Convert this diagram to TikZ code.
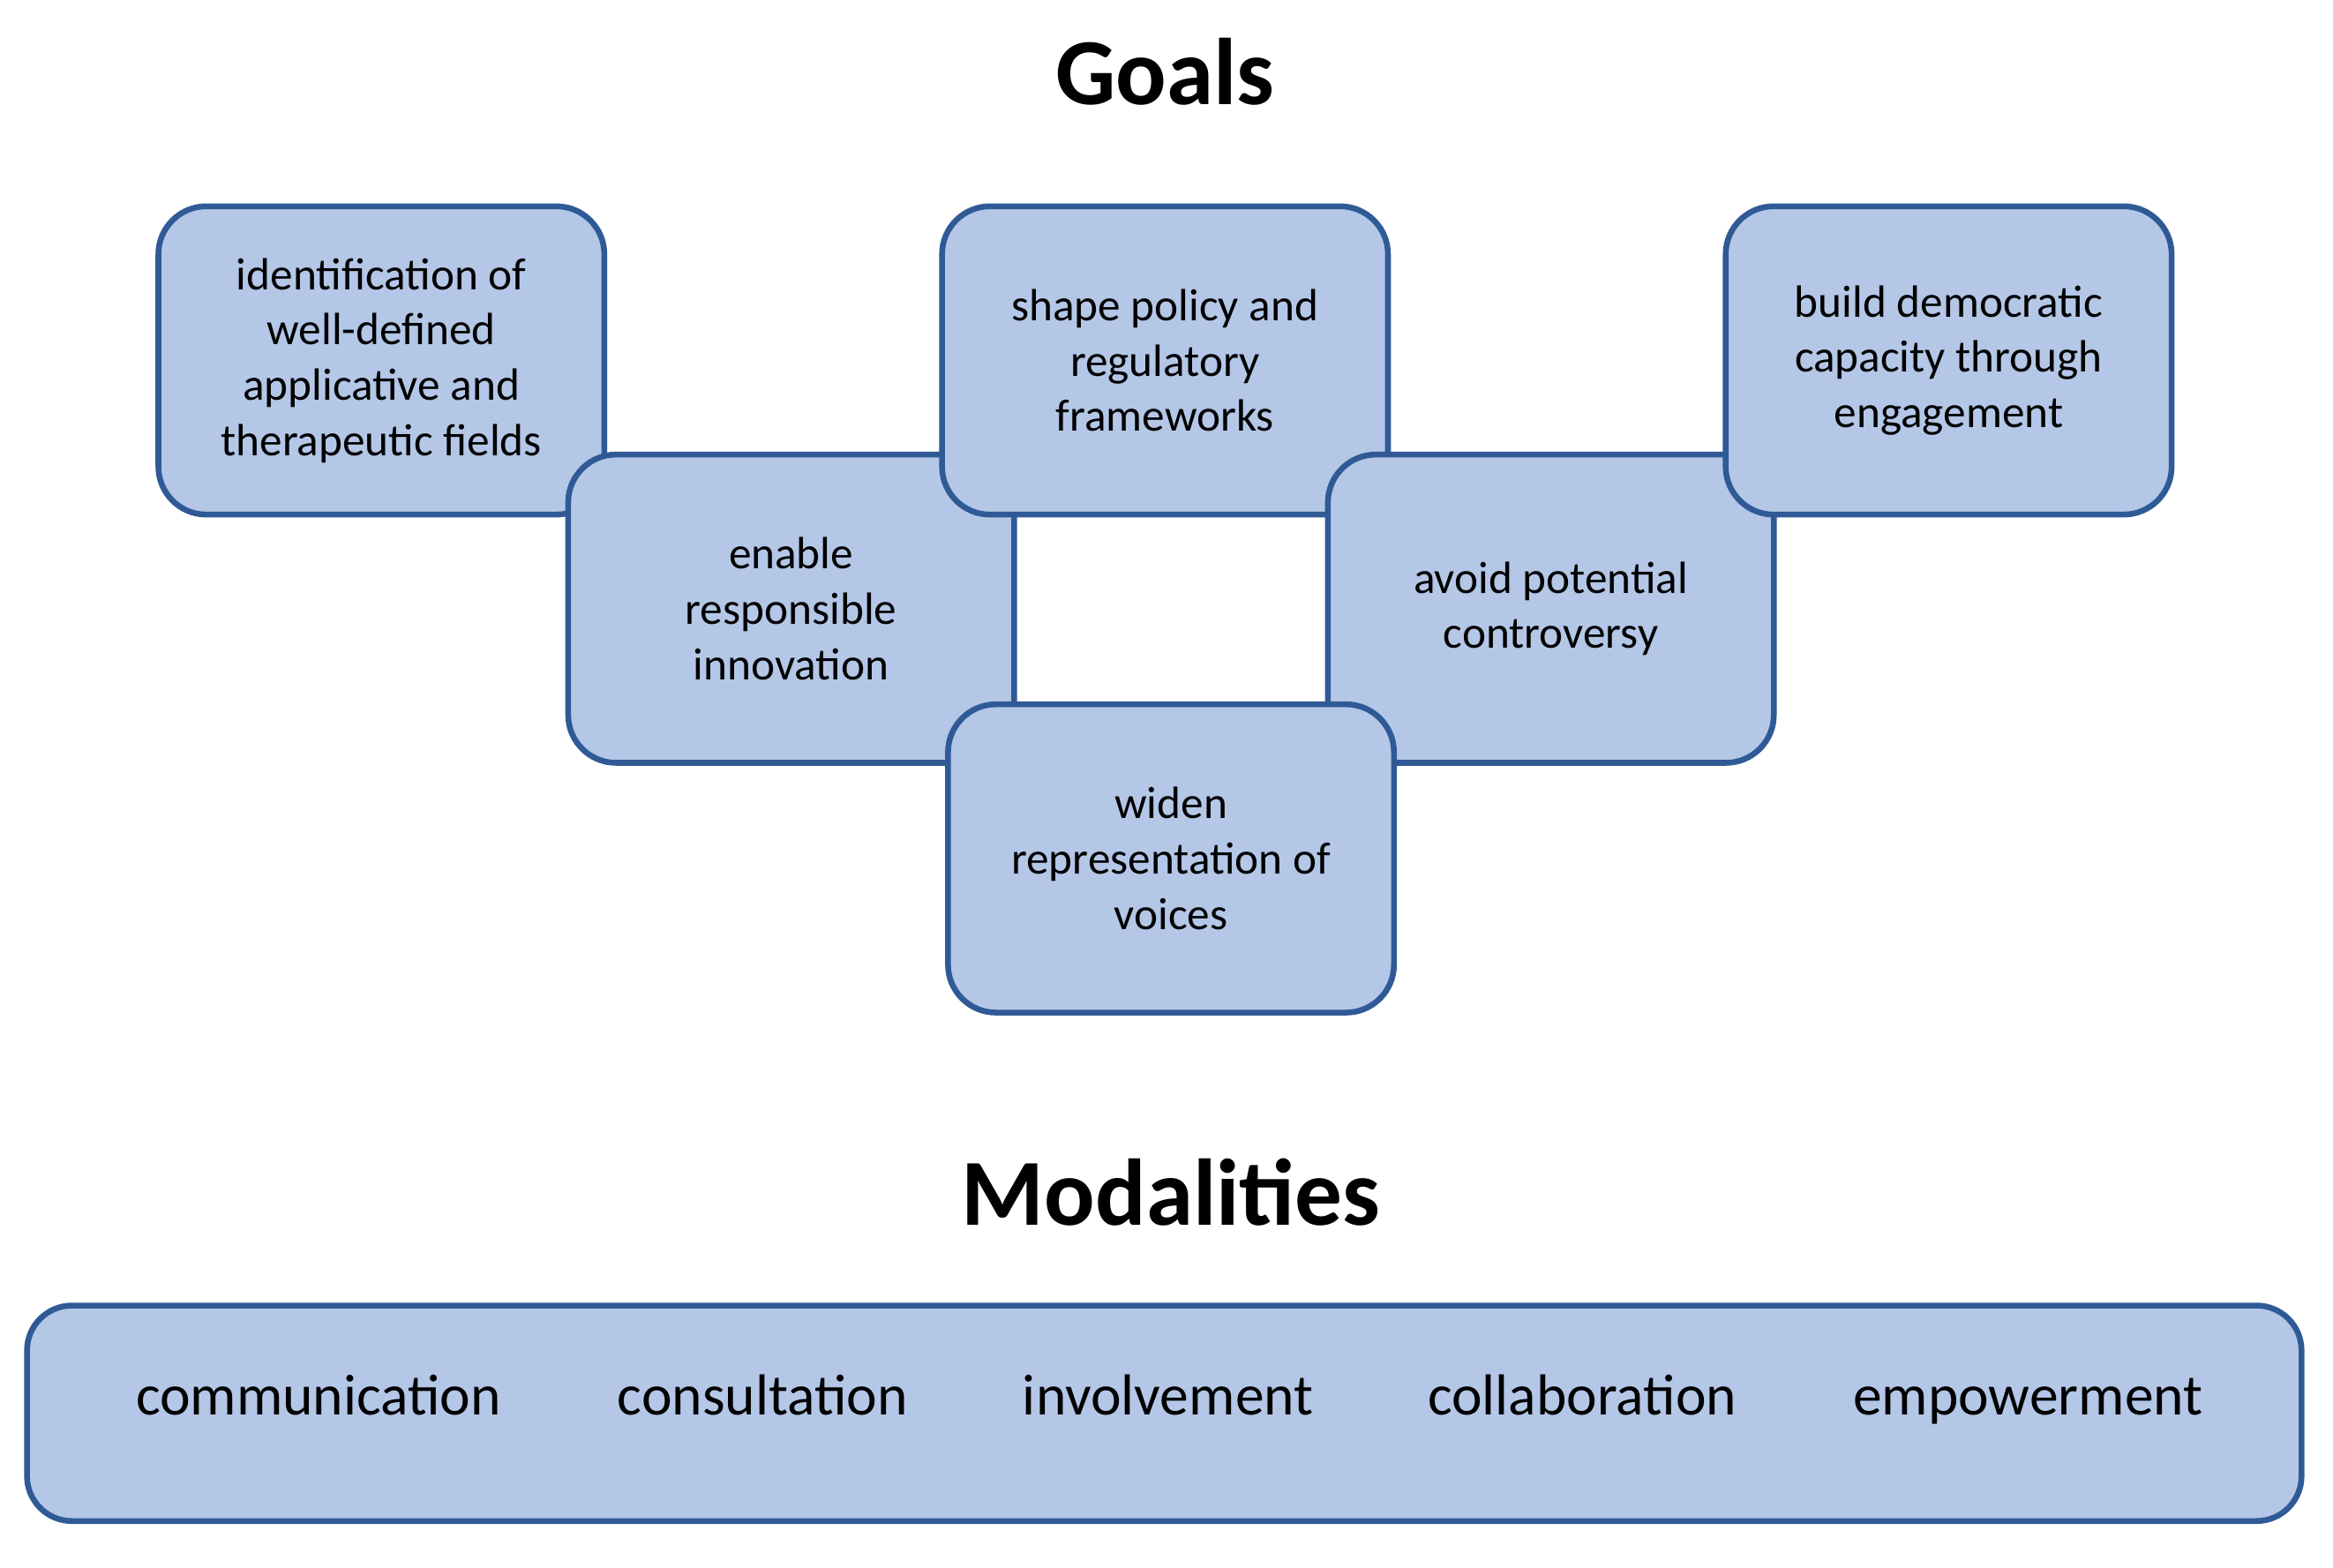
\documentclass[tikz,border=0pt]{standalone}
\usepackage{fontspec}
\setmainfont{Carlito}
\usepackage{xcolor}
\definecolor{goalfill}{HTML}{B4C7E7}
\definecolor{goaldraw}{HTML}{2F5A96}
\begin{document}
\begin{tikzpicture}[
    x=0.01cm, y=-0.01cm,
    goal/.style={rectangle, draw=goaldraw, fill=goalfill, line width=1.1pt, rounded corners=0.32cm,
        minimum width=2.98cm, minimum height=2.06cm, align=center,
        font=\fontsize{8.6}{10.5}\selectfont},
    title/.style={font=\fontsize{18}{21}\selectfont\bfseries},
    mode/.style={anchor=base, font=\fontsize{11}{13}\selectfont}
]
\useasboundingbox (0,0) rectangle (1560,1048);
\node[title] (goals) at (779,48) {Goals};
\node[goal] (ident) at (255,241) {identification of\\well-defined\\applicative and\\therapeutic fields};
\node[goal] (enable) at (529,407) {enable\\responsible\\innovation};
\node[goal] (shape) at (779,241) {shape policy and\\regulatory\\frameworks};
\node[goal] (avoid) at (1037,407) {avoid potential\\controversy};
\node[goal] (build) at (1303,241) {build democratic\\capacity through\\engagement};
\node[goal] (widen) at (783,574) {widen\\representation of\\voices};
\node[title] (modal) at (783,797) {Modalities};
\node[rectangle, draw=goaldraw, fill=goalfill, line width=1.1pt, rounded corners=0.3cm,
    minimum width=15.2cm, minimum height=1.44cm] (band) at (778.5,945) {};
\node[mode] (comm) at (213,946) {communication};
\node[mode] (cons) at (510,946) {consultation};
\node[mode] (invo) at (781,946) {involvement};
\node[mode] (coll) at (1058,946) {collaboration};
\node[mode] (empo) at (1356,946) {empowerment};
\end{tikzpicture}
\end{document}
